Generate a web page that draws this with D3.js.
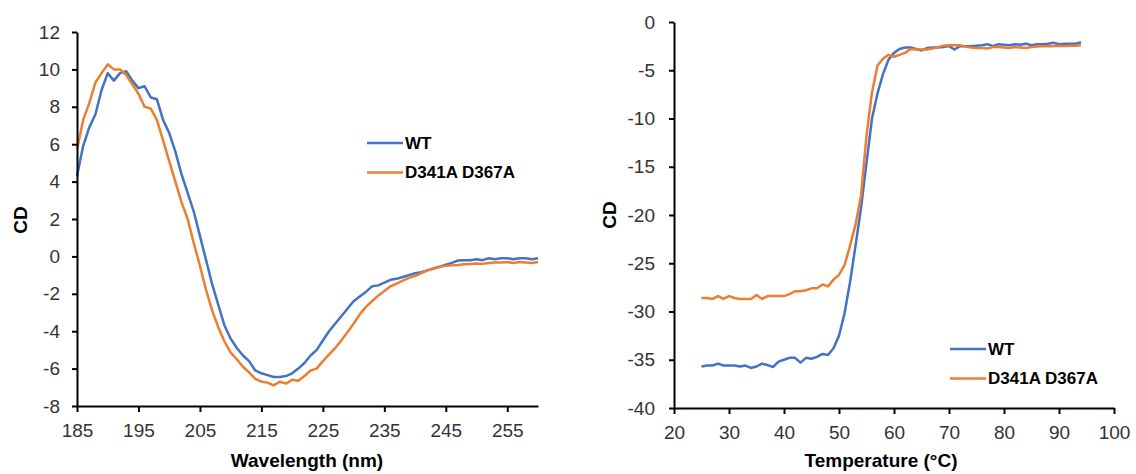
<!DOCTYPE html>
<html lang="en">
<head>
<meta charset="UTF-8">
<title>CD spectra and thermal melt</title>
<script src="https://d3js.org/d3.v7.min.js"></script>
<style>
  body { margin: 0; background: #fff; }
  svg { display: block; font-family: "Liberation Sans", Arial, sans-serif; }
  .tick text { fill: #333; font-size: 19px; }
  .axis path, .axis line { stroke: #000; stroke-width: 2px; }
  .title { font-weight: bold; font-size: 19px; fill: #000; }
  .legend text { font-weight: bold; font-size: 17px; fill: #000; }
</style>
</head>
<body>
<svg id="chart" width="1136" height="474"></svg>
<script>
// ---- data ----
var seriesNames = ["WT", "D341A D367A"];
var colors = ["#4472C4", "#ED7D31"];

// wavelength scan, 185..260 nm, 1 nm step
var wavelength = d3.range(185, 261, 1);
var cdWT = [4.3, 5.9, 6.9, 7.6, 8.9, 9.8, 9.4, 9.8, 9.9, 9.4,
  9.0, 9.1, 8.5, 8.4, 7.3, 6.6, 5.6, 4.4, 3.4, 2.4,
  1.1, -0.2, -1.5, -2.6, -3.7, -4.4, -4.9, -5.3, -5.6, -6.1,
  -6.25, -6.35, -6.45, -6.45, -6.4, -6.25, -6.0, -5.7, -5.3, -5.0,
  -4.5, -4.0, -3.6, -3.2, -2.8, -2.4, -2.15, -1.9, -1.6, -1.55,
  -1.4, -1.25, -1.2, -1.1, -1.0, -0.9, -0.85, -0.75, -0.65, -0.55,
  -0.45, -0.35, -0.22, -0.2, -0.2, -0.15, -0.2, -0.1, -0.15, -0.1,
  -0.1, -0.15, -0.1, -0.1, -0.15, -0.1];
var cdMut = [5.7, 7.3, 8.2, 9.3, 9.8, 10.27, 10.0, 10.0, 9.7, 9.2,
  8.7, 8.0, 7.9, 7.3, 6.2, 5.1, 4.0, 2.9, 2.0, 0.7,
  -0.5, -1.8, -2.9, -3.8, -4.55, -5.15, -5.5, -5.9, -6.2, -6.55,
  -6.7, -6.75, -6.9, -6.7, -6.8, -6.6, -6.65, -6.4, -6.1, -6.0,
  -5.6, -5.25, -4.9, -4.5, -4.05, -3.6, -3.1, -2.7, -2.4, -2.1,
  -1.85, -1.6, -1.45, -1.3, -1.15, -1.05, -0.9, -0.75, -0.65, -0.55,
  -0.5, -0.48, -0.46, -0.42, -0.4, -0.38, -0.4, -0.35, -0.33, -0.32,
  -0.3, -0.35, -0.3, -0.32, -0.35, -0.3];

// thermal melt, 25..94 °C, 1 °C step
var temperature = d3.range(25, 95, 1);
var meltWT = [-35.7, -35.6, -35.6, -35.4, -35.6, -35.6, -35.6, -35.7, -35.6, -35.85,
  -35.7, -35.4, -35.55, -35.75, -35.2, -35.0, -34.8, -34.8, -35.3, -34.8,
  -34.9, -34.7, -34.4, -34.5, -33.8, -32.5, -30.2, -27.0, -23.2, -19.3,
  -14.6, -10.0, -7.4, -5.4, -3.9, -3.2, -2.8, -2.65, -2.65, -2.8,
  -2.95, -2.7, -2.65, -2.65, -2.6, -2.5, -2.85, -2.5, -2.5, -2.5,
  -2.45, -2.4, -2.3, -2.5, -2.3, -2.35, -2.4, -2.3, -2.35, -2.25,
  -2.4, -2.3, -2.3, -2.25, -2.15, -2.3, -2.25, -2.25, -2.25, -2.1];
var meltMut = [-28.6, -28.6, -28.7, -28.4, -28.7, -28.4, -28.6, -28.7, -28.7, -28.7,
  -28.3, -28.7, -28.4, -28.4, -28.4, -28.4, -28.2, -27.9, -27.9, -27.8,
  -27.6, -27.6, -27.2, -27.4, -26.7, -26.2, -25.2, -23.2, -21.0, -18.0,
  -11.8, -7.3, -4.5, -3.8, -3.4, -3.6, -3.4, -3.2, -2.8, -2.85,
  -2.85, -2.85, -2.75, -2.6, -2.45, -2.4, -2.4, -2.4, -2.55, -2.65,
  -2.7, -2.7, -2.75, -2.6, -2.6, -2.65, -2.7, -2.6, -2.65, -2.7,
  -2.6, -2.55, -2.5, -2.5, -2.5, -2.45, -2.5, -2.45, -2.45, -2.4];

var wlTicks = [185, 195, 205, 215, 225, 235, 245, 255];
var cdTicks = [-8, -6, -4, -2, 0, 2, 4, 6, 8, 10, 12];
var tTicks = [20, 30, 40, 50, 60, 70, 80, 90, 100];
var meltTicks = [-40, -35, -30, -25, -20, -15, -10, -5, 0];

var svg = d3.select("#chart");

function drawPanel(opt) {
  var g = svg.append("g");
  var x = d3.scaleLinear().domain(opt.xDomain).range([opt.left, opt.right]);
  var y = d3.scaleLinear().domain(opt.yDomain).range([opt.bottom, opt.top]);

  // lines first, axes drawn on top
  opt.series.forEach(function (s, i) {
    var pts = opt.xs.map(function (v, j) { return [v, s[j]]; });
    g.append("path")
      .datum(pts)
      .attr("fill", "none")
      .attr("stroke", colors[i])
      .attr("stroke-width", 2.5)
      .attr("stroke-linejoin", "round")
      .attr("d", d3.line().x(function (d) { return x(d[0]); }).y(function (d) { return y(d[1]); }));
  });

  g.append("g")
    .attr("class", "axis")
    .attr("transform", "translate(0," + opt.bottom + ")")
    .call(d3.axisBottom(x).tickValues(opt.xTicks).tickSize(6).tickSizeOuter(0).tickPadding(12)
      .tickFormat(function (d) { return String(d); }));

  g.append("g")
    .attr("class", "axis")
    .attr("transform", "translate(" + opt.left + ",0)")
    .call(d3.axisLeft(y).tickValues(opt.yTicks).tickSize(5).tickSizeOuter(0).tickPadding(opt.yPad)
      .tickFormat(function (d) { return String(d); }));

  g.selectAll(".domain").attr("stroke-width", 2);

  g.append("text")
    .attr("class", "title")
    .attr("x", opt.xTitleX)
    .attr("y", 467)
    .attr("text-anchor", "middle")
    .text(opt.xTitle);

  g.append("text")
    .attr("class", "title")
    .attr("transform", "translate(" + opt.yTitleX + "," + opt.yTitleY + ") rotate(-90)")
    .attr("text-anchor", "middle")
    .attr("dy", "0.35em")
    .text("CD");

  var legend = g.append("g").attr("class", "legend");
  seriesNames.forEach(function (name, i) {
    var ly = opt.legendY + i * 29.5;
    legend.append("line")
      .attr("x1", opt.legendX).attr("x2", opt.legendX + 36)
      .attr("y1", ly).attr("y2", ly)
      .attr("stroke", colors[i]).attr("stroke-width", 2.5);
    legend.append("text")
      .attr("x", opt.legendX + 38)
      .attr("y", ly)
      .attr("dy", "0.35em")
      .text(name);
  });
}

drawPanel({
  left: 77, right: 538, top: 32, bottom: 406,
  xDomain: [185, 260], yDomain: [-8, 12],
  xs: wavelength, series: [cdWT, cdMut],
  xTicks: wlTicks, yTicks: cdTicks, yPad: 12,
  xTitle: "Wavelength (nm)", xTitleX: 307,
  yTitleX: 20, yTitleY: 220,
  legendX: 367, legendY: 143
});

drawPanel({
  left: 674, right: 1114, top: 22, bottom: 408,
  xDomain: [20, 100], yDomain: [-40, 0],
  xs: temperature, series: [meltWT, meltMut],
  xTicks: tTicks, yTicks: meltTicks, yPad: 14,
  xTitle: "Temperature (\u00B0C)", xTitleX: 881,
  yTitleX: 609, yTitleY: 215,
  legendX: 950, legendY: 349
});
</script>
</body>
</html>
